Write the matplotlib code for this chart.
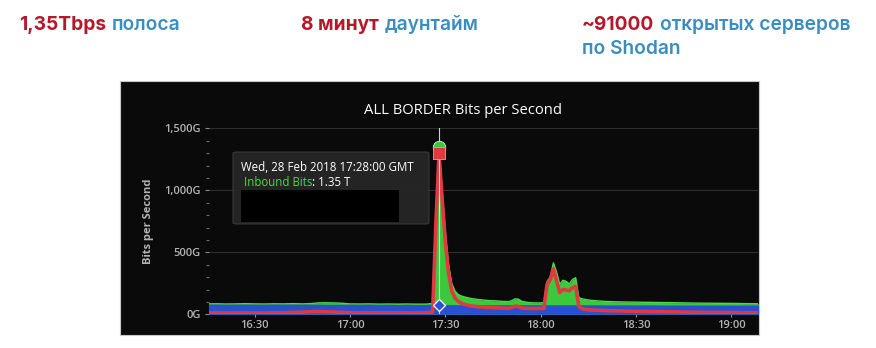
import matplotlib
matplotlib.use("Agg")
import matplotlib.pyplot as plt
from matplotlib.patches import Rectangle, FancyBboxPatch
from matplotlib.ticker import MultipleLocator, FixedLocator

# ---- data: minutes after 16:00, values in Gbit/s ----
minutes = [15, 18, 21, 24, 27, 30, 33, 36, 39, 42, 45, 48, 50, 52, 54, 56, 58, 60,
           63, 66, 69, 72, 75, 78, 81, 84, 86, 87, 88, 89, 90, 91, 92, 93, 94, 95,
           96, 98, 100, 102, 104, 106, 108, 110, 111, 112, 113, 114, 116, 118, 120,
           121, 122, 123, 124, 125, 126, 127, 128, 129, 130, 131, 132, 133, 134, 136,
           138, 140, 145, 150, 155, 160, 165, 170, 175, 180, 185, 189]

inbound = [84, 85, 83, 84, 86, 84, 83, 85, 84, 86, 84, 87, 92, 93, 92, 91, 88, 84,
           83, 84, 82, 83, 82, 83, 82, 82, 88, 780, 1350, 1000, 660, 400, 250, 188, 160, 148,
           140, 128, 120, 115, 110, 108, 104, 102, 112, 125, 122, 105, 95, 92, 92,
           95, 265, 300, 415, 340, 240, 275, 265, 245, 280, 295, 135, 125, 120, 112,
           108, 104, 100, 98, 96, 94, 92, 90, 89, 88, 86, 85]

other = [81, 82, 81, 81, 82, 81, 81, 82, 81, 82, 81, 82, 82, 81, 81, 81, 81, 81,
         80, 81, 80, 80, 79, 80, 79, 79, 79, 79, 79, 79, 78, 78, 78, 78, 78, 78,
         78, 78, 77, 77, 77, 77, 77, 77, 77, 77, 77, 77, 77, 77, 77,
         77, 77, 77, 77, 77, 77, 77, 77, 77, 77, 77, 77, 77, 77, 77,
         77, 76, 76, 76, 76, 75, 75, 75, 75, 75, 75, 75]

outbound = [11, 12, 11, 11, 12, 11, 11, 12, 13, 15, 17, 21, 23, 21, 19, 17, 15, 13,
            12, 13, 12, 12, 11, 12, 11, 12, 18, 720, 1300, 920, 580, 330, 190, 132, 105, 90,
            80, 68, 62, 58, 55, 52, 50, 48, 56, 67, 62, 50, 47, 47, 47,
            48, 240, 280, 365, 270, 175, 200, 195, 190, 215, 225, 62, 46, 40, 35,
            32, 30, 27, 24, 22, 20, 18, 16, 15, 14, 13, 13]

tick_minutes = [30, 60, 90, 120, 150, 180]
tick_labels = ["16:30", "17:00", "17:30", "18:00", "18:30", "19:00"]
y_ticks = [0, 500, 1000, 1500]
y_labels = ["0G", "500G", "1,000G", "1,500G"]

hover_minute = 88
hover_inbound = 1350
hover_outbound = 1300
hover_other = 79

W, H = 876, 348
fig = plt.figure(figsize=(W / 100, H / 100), dpi=100)
fig.patch.set_facecolor("white")


def fx(px):
    return px / W


def fy(py):
    return 1 - py / H


fig.canvas.draw()
renderer = fig.canvas.get_renderer()

# ---- headline row ----
RED = "#b3182b"
BLUE = "#3a8dbf"
HFONT = "Inter"
HSIZE = 13.8


def chain(x, y, parts, gap=6):
    cur = x
    for text, color, weight in parts:
        t = fig.text(fx(cur), fy(y), text, color=color, fontsize=HSIZE,
                     fontweight=weight, family=HFONT, va="baseline", ha="left")
        bb = t.get_window_extent(renderer=renderer)
        cur = cur + bb.width + gap


chain(19, 30.5, [("1,35Tbps", RED, "bold"), ("полоса", BLUE, "semibold")])
chain(301, 30.5, [("8 минут", RED, "bold"), ("даунтайм", BLUE, "semibold")])
chain(582, 30.5, [("~91000", RED, "bold"), ("открытых серверов", BLUE, "semibold")])
chain(582, 54.5, [("по Shodan", BLUE, "semibold")])

# ---- dark chart panel ----
panel = Rectangle((fx(120), fy(335)), fx(759) - fx(120), fy(81) - fy(335),
                  transform=fig.transFigure, facecolor="#0a0a0a",
                  edgecolor="#c8c8c8", linewidth=0.8, zorder=-5)
fig.patches.append(panel)

ax = fig.add_axes([fx(209), fy(314.3), fx(758) - fx(209), fy(128.3) - fy(314.3)])
ax.set_zorder(1)
ax.set_facecolor("none")
for s in ax.spines.values():
    s.set_visible(False)

GREEN = "#3cc83c"
BLUEF = "#2a4fd2"
REDL = "#e2383f"

ax.fill_between(minutes, 0, inbound, color=GREEN, linewidth=0, zorder=2)
ax.plot(minutes, inbound, color="#4fd84f", linewidth=1.0, zorder=2.1)
ax.fill_between(minutes, 0, other, color=BLUEF, linewidth=0, zorder=3)
ax.plot(minutes, outbound, color=REDL, linewidth=2.6, zorder=4,
        solid_joinstyle="round")

ax.set_xlim(15.6, 188.4)
ax.set_ylim(0, 1500)

ax.grid(axis="y", color="#2e2e2e", linewidth=0.8, zorder=0)
ax.set_axisbelow(True)

ax.xaxis.set_major_locator(FixedLocator(tick_minutes))
ax.set_xticklabels(tick_labels)
ax.yaxis.set_major_locator(FixedLocator(y_ticks))
ax.set_yticklabels(y_labels)
ax.yaxis.set_minor_locator(MultipleLocator(100))

ax.tick_params(axis="x", colors="#9a9a9a", labelcolor="#b4b4b4", labelsize=8,
               length=4, width=0.8, pad=2, direction="inout")
ax.tick_params(axis="y", which="major", colors="#8a8a8a", labelcolor="#b4b4b4",
               labelsize=8, length=3, width=0.8, pad=3)
ax.tick_params(axis="y", which="minor", colors="#6a6a6a", length=2, width=0.8)
for lab in ax.get_xticklabels() + ax.get_yticklabels():
    lab.set_family("Open Sans")
    lab.set_fontweight("semibold")

fig.text(fx(148), fy(221), "Bits per Second", rotation=90, color="#b4b4b4",
         fontsize=8, fontweight="bold", family="Open Sans", ha="center", va="center")
fig.text(fx(463), fy(114), "ALL BORDER Bits per Second", color="white",
         fontsize=10.6, family="Open Sans", ha="center", va="baseline")

# ---- hover crosshair and markers ----
ax.axvline(hover_minute, color="#e8e8e8", linewidth=0.8, zorder=5, alpha=0.9)
ax.plot([hover_minute], [hover_inbound], marker="o", markersize=9, color=GREEN,
        markeredgecolor="#c8ffc8", markeredgewidth=0.6, zorder=6)
ax.plot([hover_minute], [hover_outbound], marker="s", markersize=8, color=REDL,
        markeredgecolor="#ff9090", markeredgewidth=0.6, zorder=7)
ax.plot([hover_minute], [hover_other], marker="D", markersize=6, color=BLUEF,
        markeredgecolor="white", markeredgewidth=0.9, zorder=7)

# ---- tooltip ----
tip = FancyBboxPatch((fx(233), fy(224)), fx(429) - fx(233), fy(152) - fy(224),
                     boxstyle="round,pad=0,rounding_size=0.004",
                     transform=fig.transFigure, facecolor="#262626",
                     edgecolor="#3a3a3a", linewidth=0.8, alpha=0.95, zorder=8)
fig.patches.append(tip)
inner = Rectangle((fx(241), fy(222)), fx(399) - fx(241), fy(190) - fy(222),
                  transform=fig.transFigure, facecolor="black", edgecolor="none",
                  zorder=9)
fig.patches.append(inner)
fig.text(fx(241), fy(170.5), "Wed, 28 Feb 2018 17:28:00 GMT", color="white",
         fontsize=8.3, family="Open Sans", ha="left", va="baseline", zorder=10)
t1 = fig.text(fx(244), fy(185.5), "Inbound Bits", color="#3ee23e",
              fontsize=8.3, family="Open Sans", ha="left", va="baseline", zorder=10)
bb = t1.get_window_extent(renderer=renderer)
fig.text(fx(244 + bb.width), fy(185.5), ": 1.35 T", color="white",
         fontsize=8.3, family="Open Sans", ha="left", va="baseline", zorder=10)

fig.savefig("out.png", dpi=100, facecolor="white")
